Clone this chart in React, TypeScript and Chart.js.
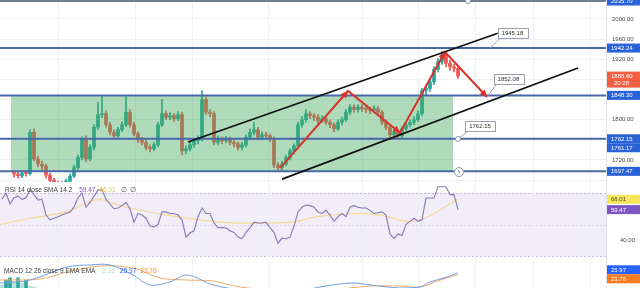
import React, { useEffect, useRef } from 'react';
import { Chart, registerables } from 'chart.js';

Chart.register(...registerables);

const FONT = "'Liberation Sans', Arial, sans-serif";
const X_MIN = -3.5;
const X_MAX = 148;
const UP = '#26a69a';
const DOWN = '#ef5350';

// ---- candles (index 0..111) ----
const opens = [
  1695, 1692, 1689, 1694, 1693, 1775, 1722, 1712, 1708, 1690,
  1680, 1674, 1670, 1672, 1678, 1688, 1705, 1725, 1762, 1722,
  1745, 1785, 1810, 1812, 1790, 1775, 1768, 1780, 1790, 1815,
  1790, 1772, 1760, 1755, 1745, 1742, 1750, 1790, 1812, 1805,
  1808, 1802, 1810, 1738, 1742, 1750, 1758, 1762, 1840, 1815,
  1812, 1755, 1762, 1758, 1762, 1755, 1752, 1745, 1750, 1765,
  1775, 1780, 1765, 1770, 1768, 1762, 1710, 1705, 1712, 1725,
  1738, 1748, 1790, 1800, 1812, 1808, 1805, 1798, 1802, 1795,
  1790, 1782, 1795, 1800, 1815, 1825, 1820, 1825, 1822, 1820,
  1818, 1822, 1815, 1795, 1785, 1770, 1775, 1768, 1782, 1790,
  1795, 1800, 1812, 1858, 1862, 1875, 1900, 1915, 1928, 1912,
  1905, 1902,
];
const closes = [
  1692, 1689, 1694, 1693, 1775, 1722, 1712, 1708, 1690, 1680,
  1674, 1670, 1672, 1678, 1688, 1705, 1725, 1762, 1722, 1745,
  1785, 1810, 1812, 1790, 1775, 1768, 1780, 1790, 1815, 1790,
  1772, 1760, 1755, 1745, 1742, 1750, 1790, 1812, 1805, 1808,
  1802, 1810, 1738, 1742, 1750, 1758, 1762, 1840, 1815, 1812,
  1755, 1762, 1758, 1762, 1755, 1752, 1745, 1750, 1765, 1775,
  1780, 1765, 1770, 1768, 1762, 1710, 1705, 1712, 1725, 1738,
  1748, 1790, 1800, 1812, 1808, 1805, 1798, 1802, 1795, 1790,
  1782, 1795, 1800, 1815, 1825, 1820, 1825, 1822, 1820, 1818,
  1822, 1815, 1795, 1785, 1770, 1775, 1768, 1782, 1790, 1795,
  1800, 1812, 1858, 1862, 1875, 1900, 1915, 1928, 1912, 1905,
  1902, 1886.6,
];
const highs = [
  1698, 1696, 1698, 1699, 1780, 1782, 1728, 1718, 1712, 1694,
  1684, 1678, 1677, 1682, 1692, 1710, 1730, 1766, 1768, 1750,
  1790, 1835, 1848, 1818, 1795, 1780, 1785, 1796, 1846, 1820,
  1795, 1776, 1765, 1760, 1750, 1755, 1795, 1840, 1818, 1814,
  1812, 1816, 1815, 1748, 1755, 1762, 1768, 1858, 1845, 1820,
  1816, 1768, 1766, 1767, 1766, 1760, 1756, 1755, 1770, 1782,
  1795, 1785, 1776, 1775, 1772, 1766, 1715, 1718, 1730, 1742,
  1752, 1795, 1806, 1820, 1816, 1812, 1810, 1808, 1806, 1800,
  1794, 1800, 1805, 1820, 1830, 1830, 1830, 1830, 1826, 1825,
  1828, 1826, 1818, 1800, 1788, 1780, 1780, 1786, 1795, 1800,
  1806, 1818, 1862, 1868, 1880, 1905, 1922, 1936, 1932, 1918,
  1910, 1906,
];
const lows = [
  1686, 1684, 1685, 1688, 1690, 1718, 1706, 1700, 1684, 1675,
  1668, 1664, 1665, 1668, 1674, 1685, 1700, 1720, 1716, 1718,
  1740, 1780, 1804, 1785, 1770, 1762, 1764, 1776, 1786, 1785,
  1768, 1755, 1750, 1740, 1736, 1738, 1746, 1786, 1800, 1800,
  1796, 1798, 1730, 1732, 1738, 1745, 1752, 1758, 1810, 1806,
  1750, 1750, 1752, 1754, 1750, 1746, 1740, 1740, 1746, 1760,
  1770, 1760, 1760, 1762, 1756, 1705, 1697, 1700, 1708, 1720,
  1732, 1744, 1785, 1795, 1802, 1798, 1792, 1794, 1790, 1784,
  1776, 1778, 1790, 1796, 1810, 1815, 1815, 1816, 1814, 1812,
  1814, 1810, 1790, 1780, 1765, 1764, 1762, 1764, 1778, 1785,
  1790, 1796, 1808, 1850, 1856, 1870, 1895, 1910, 1905, 1898,
  1895, 1882,
];

// ---- drawings on price pane ----
const levels = [2035.7, 1942.24, 1848.3, 1762.15, 1697.47];
const levelColors = ['#6f7c92', '#4867ad', '#4a6aa6', '#4867ad', '#4a6aa6'];
const boxIdx = [-0.75, 109.75];
const boxPrices = [1697.47, 1848.3];
const upperIdx = [43.5, 123.25];
const upperPrices = [1755.7, 1978.1];
const lowerIdx = [67, 141];
const lowerPrices = [1682, 1902.7];
const zigIdx = [66.5, 83.5, 96.5, 107.75, 118.25];
const zigPrices = [1704, 1857, 1774, 1934.5, 1845];
const calloutTexts = ['1945.18', '1852.08', '1762.15'];
const calloutIdx = [124.6, 123.6, 116.5];
const calloutPrices = [1972.2, 1880.8, 1787.5];
const calloutTipIdx = [119, 118.25, 111];
const calloutTipPrices = [1942.4, 1845.1, 1761.7];
const gridIdx = [11, 30.25, 44.5, 63.5, 87, 101, 115.25, 129.75, 144];
const priceTicks = [1680, 1720, 1760, 1800, 1840, 1880, 1920, 1960, 2000];
const hiddenPriceTicks = [1680, 1760, 1840, 1880];

// ---- RSI pane ----
const RSI_START = -3;
const rsiValues = [
  66, 70, 63, 67, 68, 66, 67, 72, 69, 65.5,
  66, 56, 53, 54, 55, 56, 57, 58, 61, 67,
  70, 61, 64, 68, 72, 72, 66, 63, 60, 60.5,
  62, 64, 60, 51.5, 57, 56, 54, 49, 48.5, 50,
  58, 58, 57, 57, 56, 53, 42, 44.6, 46, 55,
  60.5, 57, 57, 51, 48, 48, 47.8, 46, 45, 42,
  41, 45, 48, 51.5, 51, 51, 51.5, 48, 45, 38,
  41.4, 41, 42, 49, 58, 61, 62.4, 62, 61, 58,
  57, 59, 56, 52, 55, 57, 55, 61, 62, 61,
  60.5, 60.5, 59, 57, 57.5, 58, 56, 44, 41, 44,
  43, 50, 52, 54, 52, 53, 66.8, 66.8, 66.8, 74,
  74, 74, 69, 69, 59.47,
];
const rsiTicks = [40, 60];
const smaIdx = [-3.5, 4, 13.25, 18.25, 21.5, 25.25, 29.75, 38.25, 46.5, 54.75, 63.25, 69.75, 75.75, 84.75, 91.5, 98.25, 101.5, 105.75, 109.75, 111];
const smaValues = [50, 54, 58, 64, 66, 63, 60, 56, 53, 51, 51, 51.5, 55, 57, 56, 52, 53, 58, 64.5, 66.01];

// ---- MACD pane ----
const macdIdx = [-3.5, 4, 13.25, 19, 24, 29.75, 34, 39, 43.25, 49.75, 56.5, 66.5, 76.5, 84.75, 89, 96.5, 101.5, 104, 108.25, 111];
const macdValues = [14.6, 17.9, 32.4, 34.7, 34.7, 23.5, 12.4, 15.7, 23.5, 12.4, 6.8, 0, 10.1, 14.6, 12.4, 9, 10.1, 15.7, 21.3, 25.97];
const signalIdx = [-3.5, 6.5, 13.25, 21.5, 29.75, 36.5, 43.25, 49.75, 56.5, 71.5, 81.5, 89, 96.5, 101.5, 106.5, 111];
const signalValues = [17.9, 19, 26.9, 33.5, 31.3, 20.2, 17.9, 16.8, 10.1, 4.5, 7.9, 11.2, 11.2, 10.1, 17.9, 23.76];
const histIdx = [-3, -2, -1, 0, 1, 2, 3, 4, 5];
const histValues = [12.4, 17.9, 20.2, 15.7, 20.2, 14.6, 17.9, 11.3, 10.1];
const histColors = ['#b2dfdb', '#26a69a', '#26a69a', '#b2dfdb', '#26a69a', '#b2dfdb', '#26a69a', '#b2dfdb', '#b2dfdb'];

const xScale = () => ({ type: 'linear', min: X_MIN, max: X_MAX, display: false, offset: false, grid: { display: false } });

const fitRight = (s: any) => {
  s.width = 34;
  s.paddingTop = 0;
  s.paddingBottom = 0;
};

const vGridPlugin = {
  id: 'vgrid',
  beforeDatasetsDraw(chart: any) {
    const { ctx, chartArea: a, scales } = chart;
    ctx.save();
    ctx.strokeStyle = '#eceff3';
    ctx.lineWidth = 1;
    gridIdx.forEach((g) => {
      const px = Math.round(scales.x.getPixelForValue(g)) + 0.5;
      ctx.beginPath();
      ctx.moveTo(px, a.top);
      ctx.lineTo(px, a.bottom);
      ctx.stroke();
    });
    ctx.restore();
  },
};

function badgePlugin(items: any[], axisId: string) {
  return {
    id: 'badges',
    afterDraw(chart: any) {
      const { ctx, chartArea: a, scales } = chart;
      const s = scales[axisId];
      const W = chart.width;
      const list = items
        .map((b) => ({ ...b, y: s.getPixelForValue(b.value) + (b.shift || 0) }))
        .sort((p, q) => p.y - q.y);
      let prevBottom = -Infinity;
      ctx.save();
      ctx.font = `6px ${FONT}`;
      ctx.textBaseline = 'middle';
      list.forEach((b) => {
        const h = b.text2 ? 16 : 9;
        let top = b.y - 4.5;
        if (top < prevBottom) top = prevBottom;
        ctx.fillStyle = b.bg;
        ctx.fillRect(a.right + 1, top, W - a.right - 1, h);
        ctx.fillStyle = b.fg;
        ctx.fillText(b.text, a.right + 5, top + 4.8);
        if (b.text2) ctx.fillText(b.text2, a.right + 8, top + 11.8);
        prevBottom = top + h;
      });
      ctx.restore();
    },
  };
}

function legendPlugin(items: any[], x0: number, y: number) {
  return {
    id: 'legendText',
    afterDraw(chart: any) {
      const ctx = chart.ctx;
      ctx.save();
      ctx.font = `6.5px ${FONT}`;
      ctx.textBaseline = 'middle';
      let x = x0;
      items.forEach((it) => {
        ctx.fillStyle = it.c;
        ctx.fillText(it.t, x, y);
        x += ctx.measureText(it.t).width + (it.g ?? 6);
      });
      ctx.restore();
    },
  };
}

const priceAnnotPlugin = {
  id: 'priceAnnot',
  afterDatasetDraw(chart: any, args: any) {
    if (args.index !== 1) return;
    const { ctx, scales } = chart;
    const x1 = scales.x.getPixelForValue(boxIdx[0]);
    const x2 = scales.x.getPixelForValue(boxIdx[1]);
    const y1 = scales.y.getPixelForValue(boxPrices[1]);
    const y2 = scales.y.getPixelForValue(boxPrices[0]);
    ctx.save();
    ctx.fillStyle = 'rgba(67,170,90,0.42)';
    ctx.fillRect(x1, y1, x2 - x1, y2 - y1);
    ctx.restore();
  },
  afterDatasetsDraw(chart: any) {
    const { ctx, scales } = chart;
    const X = (v: number) => scales.x.getPixelForValue(v);
    const Y = (v: number) => scales.y.getPixelForValue(v);
    ctx.save();
    ctx.fillStyle = '#d6332a';
    for (let k = 1; k < zigIdx.length; k++) {
      const ax = X(zigIdx[k - 1]);
      const ay = Y(zigPrices[k - 1]);
      const bx = X(zigIdx[k]);
      const by = Y(zigPrices[k]);
      const ang = Math.atan2(by - ay, bx - ax);
      const L = 7;
      const Wd = 3.5;
      ctx.beginPath();
      ctx.moveTo(bx, by);
      ctx.lineTo(bx - L * Math.cos(ang) + Wd * Math.sin(ang), by - L * Math.sin(ang) - Wd * Math.cos(ang));
      ctx.lineTo(bx - L * Math.cos(ang) - Wd * Math.sin(ang), by - L * Math.sin(ang) + Wd * Math.cos(ang));
      ctx.closePath();
      ctx.fill();
    }
    ctx.font = `6px ${FONT}`;
    ctx.textBaseline = 'middle';
    ctx.textAlign = 'center';
    calloutTexts.forEach((t, k) => {
      const cx = X(calloutIdx[k]);
      const cy = Y(calloutPrices[k]);
      const tx = X(calloutTipIdx[k]);
      const ty = Y(calloutTipPrices[k]);
      const w = ctx.measureText(t).width + 8;
      const h = 10;
      ctx.strokeStyle = '#93a3bd';
      ctx.lineWidth = 1;
      ctx.beginPath();
      ctx.moveTo(cx - w / 2 + 3, cy + h / 2);
      ctx.lineTo(tx, ty);
      ctx.stroke();
      ctx.fillStyle = '#ffffff';
      ctx.fillRect(cx - w / 2, cy - h / 2, w, h);
      ctx.strokeStyle = '#9aa1ad';
      ctx.strokeRect(Math.round(cx - w / 2) + 0.5, Math.round(cy - h / 2) + 0.5, Math.round(w), h);
      ctx.fillStyle = '#333';
      ctx.fillText(t, cx, cy + 0.5);
    });
    const circ = (ix: number, p: number, r: number) => {
      ctx.beginPath();
      ctx.arc(X(ix), Y(p), r, 0, Math.PI * 2);
      ctx.fillStyle = '#fff';
      ctx.fill();
      ctx.strokeStyle = '#8d96a6';
      ctx.stroke();
    };
    circ(calloutTipIdx[2], calloutTipPrices[2], 2.5);
    circ(113.5, 2035.7, 2.5);
    circ(111.25, 1696, 4.5);
    ctx.fillStyle = '#6b7280';
    ctx.font = `6px DejaVu Sans`;
    ctx.fillText('ϟ', X(111.25), Y(1696) + 0.5);
    ctx.restore();
  },
};

const rsiBandPlugin = {
  id: 'rsiBand',
  beforeDatasetsDraw(chart: any) {
    const { ctx, chartArea: a, scales } = chart;
    const y70 = scales.y.getPixelForValue(70);
    const y30 = scales.y.getPixelForValue(30);
    const y50 = scales.y.getPixelForValue(50);
    ctx.save();
    ctx.fillStyle = '#f1edf9';
    ctx.fillRect(a.left, y70, a.right - a.left, y30 - y70);
    ctx.setLineDash([2, 2]);
    ctx.lineWidth = 1;
    ctx.strokeStyle = '#c3b8dc';
    [y70, y30].forEach((yy) => {
      ctx.beginPath();
      ctx.moveTo(a.left, Math.round(yy) + 0.5);
      ctx.lineTo(a.right, Math.round(yy) + 0.5);
      ctx.stroke();
    });
    ctx.strokeStyle = '#ddd5ec';
    ctx.beginPath();
    ctx.moveTo(a.left, Math.round(y50) + 0.5);
    ctx.lineTo(a.right, Math.round(y50) + 0.5);
    ctx.stroke();
    ctx.restore();
  },
};

const baseOptions = {
  responsive: false,
  maintainAspectRatio: false,
  animation: false,
  devicePixelRatio: 1,
  layout: { padding: 0 },
  plugins: { legend: { display: false }, tooltip: { enabled: false } },
  events: [],
};

export default function App() {
  const pRef = useRef<HTMLCanvasElement>(null);
  const rRef = useRef<HTMLCanvasElement>(null);
  const mRef = useRef<HTMLCanvasElement>(null);

  useEffect(() => {
    const charts: any[] = [];
    const idx = closes.map((_, i) => i);
    const colors = closes.map((c, i) => (c >= opens[i] ? UP : DOWN));
    const lineDs = (data: any[], color: string, width: number, order: number, tension = 0) => ({
      type: 'line',
      data,
      borderColor: color,
      borderWidth: width,
      pointRadius: 0,
      tension,
      order,
      fill: false,
    });

    charts.push(
      new Chart(pRef.current as HTMLCanvasElement, {
        type: 'bar',
        data: {
          datasets: [
            {
              type: 'bar',
              data: idx.map((i) => ({ x: i, y: [lows[i], highs[i]] })),
              backgroundColor: colors,
              barThickness: 1,
              grouped: false,
              borderWidth: 0,
              order: 3,
              clip: 0,
            },
            {
              type: 'bar',
              data: idx.map((i) => ({ x: i, y: [opens[i], closes[i]] })),
              backgroundColor: colors,
              barThickness: 3,
              minBarLength: 1,
              grouped: false,
              borderWidth: 0,
              order: 2,
              clip: 0,
            },
            ...levels.map((v, k) =>
              lineDs([{ x: X_MIN, y: v }, { x: X_MAX, y: v }], levelColors[k], 2, 1)
            ),
            lineDs(upperIdx.map((x, k) => ({ x, y: upperPrices[k] })), '#111111', 1.8, 0),
            lineDs(lowerIdx.map((x, k) => ({ x, y: lowerPrices[k] })), '#111111', 1.8, 0),
            lineDs(zigIdx.map((x, k) => ({ x, y: zigPrices[k] })), '#d6332a', 2, 0),
          ],
        },
        options: {
          ...baseOptions,
          scales: {
            x: xScale(),
            y: {
              position: 'right',
              min: 1676.3,
              max: 2037.7,
              afterFit: fitRight,
              afterBuildTicks: (s: any) => {
                s.ticks = priceTicks.map((v) => ({ value: v }));
              },
              grid: { color: '#eef0f4', drawTicks: false },
              border: { display: true, color: '#dfe2e8' },
              ticks: {
                padding: 6,
                color: '#4a4a4a',
                font: { size: 6, family: FONT },
                callback: (v: any) => (hiddenPriceTicks.includes(Number(v)) ? '' : Number(v).toFixed(2)),
              },
            },
          },
        } as any,
        plugins: [
          vGridPlugin,
          priceAnnotPlugin,
          badgePlugin(
            [
              { value: 2035.7, text: '2035.70', bg: '#2a62d8', fg: '#fff' },
              { value: 1942.24, text: '1942.24', bg: '#2a62d8', fg: '#fff' },
              { value: 1886.6, text: '1886.60', text2: '20:28', bg: '#ef6040', fg: '#fff' },
              { value: 1848.3, text: '1848.30', bg: '#2a62d8', fg: '#fff' },
              { value: 1762.15, text: '1762.15', bg: '#2a62d8', fg: '#fff' },
              { value: 1761.17, text: '1761.17', bg: '#2a62d8', fg: '#fff' },
              { value: 1697.47, text: '1697.47', bg: '#2a62d8', fg: '#fff' },
            ],
            'y'
          ),
        ],
      } as any)
    );

    charts.push(
      new Chart(rRef.current as HTMLCanvasElement, {
        type: 'line',
        data: {
          datasets: [
            lineDs(smaIdx.map((x, k) => ({ x, y: smaValues[k] })), '#f3d995', 1.2, 1, 0.3),
            lineDs(rsiValues.map((v, k) => ({ x: RSI_START + k, y: v })), '#8577b5', 1.1, 0),
          ],
        },
        options: {
          ...baseOptions,
          scales: {
            x: xScale(),
            y: {
              position: 'right',
              min: 26.2,
              max: 77,
              afterFit: fitRight,
              afterBuildTicks: (s: any) => {
                s.ticks = rsiTicks.map((v) => ({ value: v }));
              },
              grid: { display: false },
              border: { display: true, color: '#dfe2e8' },
              ticks: {
                padding: 6,
                color: '#4a4a4a',
                font: { size: 6, family: FONT },
                callback: (v: any) => (Number(v) === 40 ? '40.00' : ''),
              },
            },
          },
        } as any,
        plugins: [
          rsiBandPlugin,
          vGridPlugin,
          legendPlugin(
            [
              { t: 'RSI 14 close SMA 14 2', c: '#3f3f3f', g: 7 },
              { t: '59.47', c: '#7e57c2', g: 4 },
              { t: '66.01', c: '#efc94c', g: 5 },
              { t: '∅', c: '#555', g: 3 },
              { t: '∅', c: '#555', g: 3 },
            ],
            5,
            8
          ),
          badgePlugin(
            [
              { value: 66.01, text: '66.01', bg: '#f6e65a', fg: '#4a4a4a' },
              { value: 59.47, text: '59.47', bg: '#7e57c2', fg: '#fff' },
            ],
            'y'
          ),
        ],
      } as any)
    );

    charts.push(
      new Chart(mRef.current as HTMLCanvasElement, {
        type: 'bar',
        data: {
          datasets: [
            {
              type: 'bar',
              data: histIdx.map((x, k) => ({ x, y: histValues[k] })),
              backgroundColor: histColors,
              barThickness: 3,
              grouped: false,
              borderWidth: 0,
              order: 2,
              clip: 0,
            },
            lineDs(signalIdx.map((x, k) => ({ x, y: signalValues[k] })), '#f3aa6b', 1, 1, 0.35),
            lineDs(macdIdx.map((x, k) => ({ x, y: macdValues[k] })), '#6f9fe0', 1, 0, 0.35),
          ],
        },
        options: {
          ...baseOptions,
          scales: {
            x: xScale(),
            y: {
              position: 'right',
              min: 9,
              max: 38,
              afterFit: fitRight,
              grid: { display: false },
              border: { display: true, color: '#dfe2e8' },
              ticks: { display: false },
            },
          },
        } as any,
        plugins: [
          vGridPlugin,
          legendPlugin(
            [
              { t: 'MACD 12 26 close 9 EMA EMA', c: '#3f3f3f', g: 7 },
              { t: '2.21', c: '#a5d8d2', g: 5 },
              { t: '25.97', c: '#2962ff', g: 4 },
              { t: '23.76', c: '#ff8a1f', g: 4 },
            ],
            4,
            9
          ),
          badgePlugin(
            [
              { value: 25.97, text: '25.97', bg: '#2962ff', fg: '#fff', shift: -3 },
              { value: 23.76, text: '23.76', bg: '#f57c20', fg: '#fff' },
            ],
            'y'
          ),
        ],
      } as any)
    );

    return () => charts.forEach((c) => c.destroy());
  }, []);

  return (
    <div
      style={{
        position: 'fixed',
        left: 0,
        top: 0,
        width: 640,
        height: 288,
        background: '#ffffff',
        overflow: 'hidden',
      }}
    >
      <canvas ref={pRef} width={640} height={182} style={{ display: 'block' }} />
      <canvas ref={rRef} width={640} height={80} style={{ display: 'block' }} />
      <canvas ref={mRef} width={640} height={26} style={{ display: 'block' }} />
    </div>
  );
}
